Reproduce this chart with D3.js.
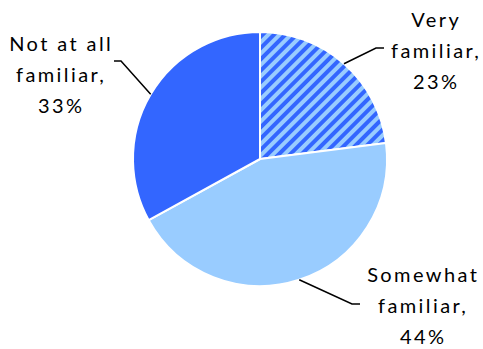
<!DOCTYPE html>
<html>
<head>
<meta charset="utf-8">
<script src="https://cdn.jsdelivr.net/npm/d3@7"></script>
<style>
  html, body { margin: 0; padding: 0; background: #fff; }
  svg { display: block; }
</style>
</head>
<body>
<svg id="chart" width="483" height="349"></svg>
<script>
// ---- data ----
const categories = ["Very familiar", "Somewhat familiar", "Not at all familiar"];
const values = [23, 44, 33];
const labelLines = [
  ["Very", "familiar,", "23%"],
  ["Somewhat", "familiar,", "44%"],
  ["Not at all", "familiar,", "33%"]
];

// ---- layout / style ----
const W = 483, H = 349;
const cx = 260, cy = 159, R = 127;
const fills = ["url(#hatch)", "#99CCFF", "#3366FF"];
// label anchor (text center x, first baseline y) and leader elbow
const labelLayout = [
  { x: 435, y: 27, elbow: [376, 48], end: [384, 48] },
  { x: 422, y: 282, elbow: [352, 304], end: [360, 304] },
  { x: 60,  y: 51, elbow: [121, 61], end: [114, 61] }
];
const lineH = 31;
const spacing = 2.4;

const svg = d3.select("#chart");
const defs = svg.append("defs");
const pat = defs.append("pattern")
  .attr("id", "hatch")
  .attr("patternUnits", "userSpaceOnUse")
  .attr("width", 8).attr("height", 8)
  .attr("patternTransform", "rotate(45)");
pat.append("rect").attr("width", 8).attr("height", 8).attr("fill", "#99CCFF");
pat.append("rect").attr("x", 0).attr("width", 4).attr("height", 8).attr("fill", "#3366FF");

const pie = d3.pie().sort(null).value(d => d)(values);
const arc = d3.arc().innerRadius(0).outerRadius(R);

const g = svg.append("g").attr("transform", `translate(${cx},${cy})`);
g.selectAll("path.slice")
  .data(pie)
  .join("path")
  .attr("class", "slice")
  .attr("d", arc)
  .attr("fill", (d, i) => fills[i])
  .attr("stroke", "#fff")
  .attr("stroke-width", 2)
  .attr("stroke-linejoin", "round");

// leader lines + labels
pie.forEach((d, i) => {
  const a = (d.startAngle + d.endAngle) / 2;
  const sx = cx + R * Math.sin(a), sy = cy - R * Math.cos(a);
  const L = labelLayout[i];
  svg.append("polyline")
    .attr("points", [[sx, sy], L.elbow, L.end].map(p => p.join(",")).join(" "))
    .attr("fill", "none")
    .attr("stroke", "#000")
    .attr("stroke-width", 1.5);
  const t = svg.append("text")
    .attr("text-anchor", "middle")
    .attr("font-family", "Lato, 'Open Sans', sans-serif")
    .attr("font-size", 20)
    .attr("letter-spacing", spacing)
    .attr("fill", "#000");
  labelLines[i].forEach((ln, k) => {
    t.append("tspan").attr("x", L.x + spacing / 2).attr("y", L.y + k * lineH).text(ln);
  });
});
</script>
</body>
</html>
